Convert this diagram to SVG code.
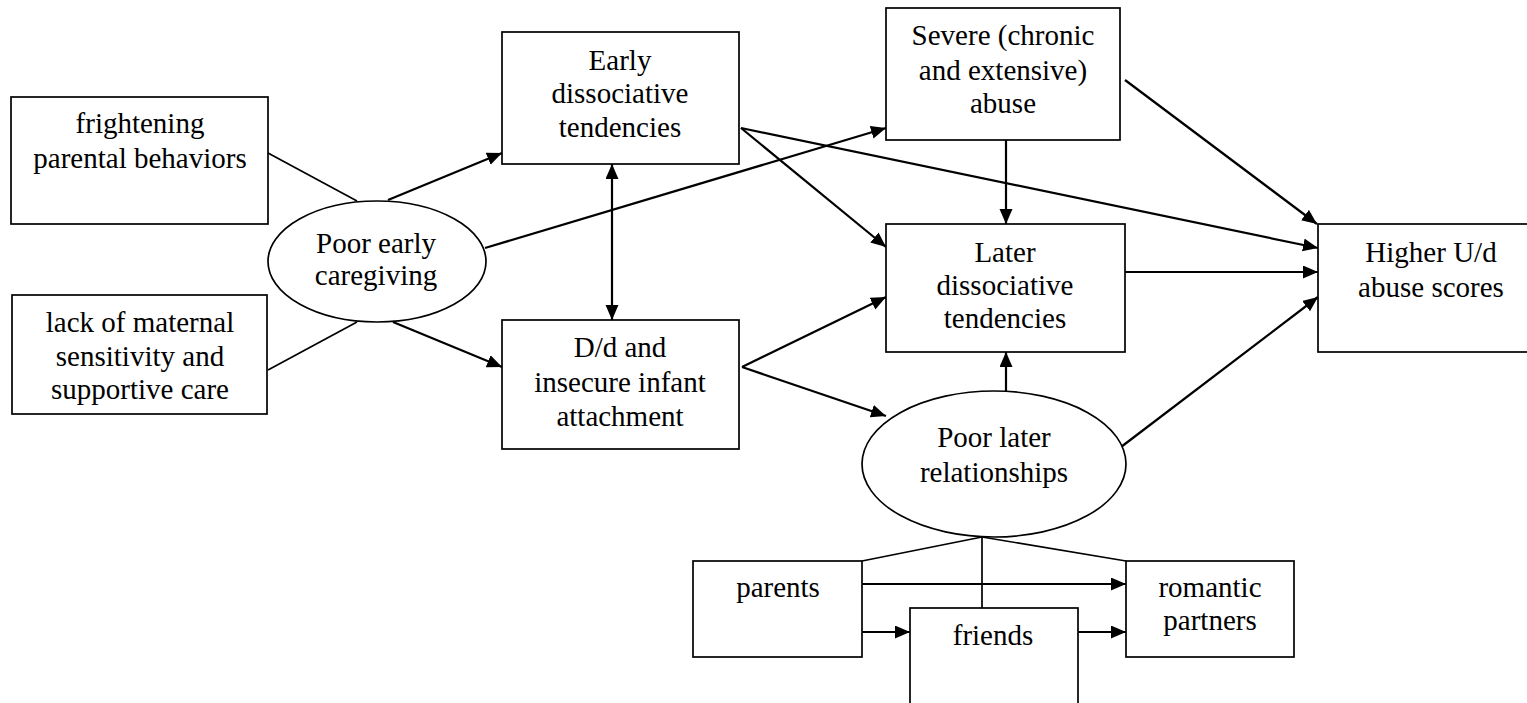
<svg xmlns="http://www.w3.org/2000/svg" width="1527" height="703" viewBox="0 0 1527 703">
<style>
  .box { fill: #ffffff; stroke: #000000; stroke-width: 1.7; }
  .oval { fill: #ffffff; stroke: #000000; stroke-width: 1.7; }
  .lbl { font-family: "Liberation Serif", "Times New Roman", serif; font-size: 29px; fill: #000000; text-anchor: middle; }
  .arr { fill: none; stroke: #000000; stroke-width: 2.2; marker-end: url(#ah); }
  .dbl { fill: none; stroke: #000000; stroke-width: 2.2; marker-end: url(#ah); marker-start: url(#ah); }
  .ln { fill: none; stroke: #000000; stroke-width: 1.7; }
</style>
<defs>
  <marker id="ah" markerUnits="userSpaceOnUse" markerWidth="16" markerHeight="14" refX="15" refY="6.5" orient="auto-start-reverse">
    <path d="M0,0 L15,6.5 L0,13 z" fill="#000000"/>
  </marker>
</defs>
<rect width="1527" height="703" fill="#ffffff"/>

<g id="connectors">
  <line class="ln" x1="268" y1="153" x2="357" y2="201"/>
  <line class="ln" x1="268" y1="370" x2="357" y2="322"/>
  <line class="arr" x1="388" y1="200" x2="502" y2="153"/>
  <line class="arr" x1="485" y1="248" x2="886" y2="128"/>
  <line class="arr" x1="393" y1="322" x2="502" y2="367"/>
  <line class="dbl" x1="612" y1="164" x2="612" y2="320"/>
  <line class="arr" x1="741" y1="128" x2="886" y2="247"/>
  <line class="arr" x1="741" y1="128" x2="1318" y2="248"/>
  <line class="arr" x1="1006" y1="128" x2="1006" y2="224"/>
  <line class="arr" x1="1125" y1="80" x2="1317" y2="224"/>
  <line class="arr" x1="1125" y1="272" x2="1318" y2="272"/>
  <line class="arr" x1="742" y1="367" x2="886" y2="297"/>
  <line class="arr" x1="742" y1="367" x2="886" y2="416"/>
  <line class="arr" x1="1006" y1="391" x2="1006" y2="352"/>
  <line class="arr" x1="1121" y1="447" x2="1318" y2="297"/>
  <line class="ln" x1="982" y1="537" x2="862" y2="561"/>
  <line class="ln" x1="982" y1="537" x2="1126" y2="561"/>
  <line class="ln" x1="982" y1="537" x2="982" y2="608"/>
  <line class="arr" x1="862" y1="584" x2="1126" y2="584"/>
  <line class="arr" x1="862" y1="632" x2="910" y2="632"/>
  <line class="arr" x1="1078" y1="632" x2="1126" y2="632"/>
</g>

<g id="frightening">
  <rect class="box" x="11" y="97" width="257" height="127"/>
  <text class="lbl" x="140" y="133">frightening</text>
  <text class="lbl" x="140" y="168">parental behaviors</text>
</g>
<g id="lack">
  <rect class="box" x="12" y="295" width="255" height="119"/>
  <text class="lbl" x="140" y="332">lack of maternal</text>
  <text class="lbl" x="140" y="366">sensitivity and</text>
  <text class="lbl" x="140" y="399">supportive care</text>
</g>
<g id="poor-early">
  <ellipse class="oval" cx="377" cy="261.5" rx="109" ry="60.5"/>
  <text class="lbl" x="376" y="253">Poor early</text>
  <text class="lbl" x="376" y="285">caregiving</text>
</g>
<g id="early">
  <rect class="box" x="502" y="32" width="237" height="132"/>
  <text class="lbl" x="620" y="70">Early</text>
  <text class="lbl" x="620" y="103">dissociative</text>
  <text class="lbl" x="620" y="137">tendencies</text>
</g>
<g id="dd">
  <rect class="box" x="502" y="320" width="237" height="129"/>
  <text class="lbl" x="620" y="357">D/d and</text>
  <text class="lbl" x="620" y="392">insecure infant</text>
  <text class="lbl" x="620" y="426">attachment</text>
</g>
<g id="severe">
  <rect class="box" x="886" y="8" width="234" height="132"/>
  <text class="lbl" x="1003" y="45">Severe (chronic</text>
  <text class="lbl" x="1003" y="80">and extensive)</text>
  <text class="lbl" x="1003" y="113">abuse</text>
</g>
<g id="later">
  <rect class="box" x="886" y="224" width="239" height="128"/>
  <text class="lbl" x="1005" y="262">Later</text>
  <text class="lbl" x="1005" y="295">dissociative</text>
  <text class="lbl" x="1005" y="328">tendencies</text>
</g>
<g id="higher">
  <rect class="box" x="1318" y="224" width="226" height="128"/>
  <text class="lbl" x="1431" y="262">Higher U/d</text>
  <text class="lbl" x="1431" y="297">abuse scores</text>
</g>
<g id="poor-later">
  <ellipse class="oval" cx="994" cy="464" rx="132" ry="73"/>
  <text class="lbl" x="994" y="447">Poor later</text>
  <text class="lbl" x="994" y="482">relationships</text>
</g>
<g id="parents">
  <rect class="box" x="693" y="561" width="169" height="96"/>
  <text class="lbl" x="778" y="597">parents</text>
</g>
<g id="friends">
  <rect class="box" x="910" y="608" width="168" height="110"/>
  <text class="lbl" x="993" y="645">friends</text>
</g>
<g id="romantic">
  <rect class="box" x="1126" y="561" width="168" height="96"/>
  <text class="lbl" x="1210" y="597">romantic</text>
  <text class="lbl" x="1210" y="630">partners</text>
</g>
</svg>
